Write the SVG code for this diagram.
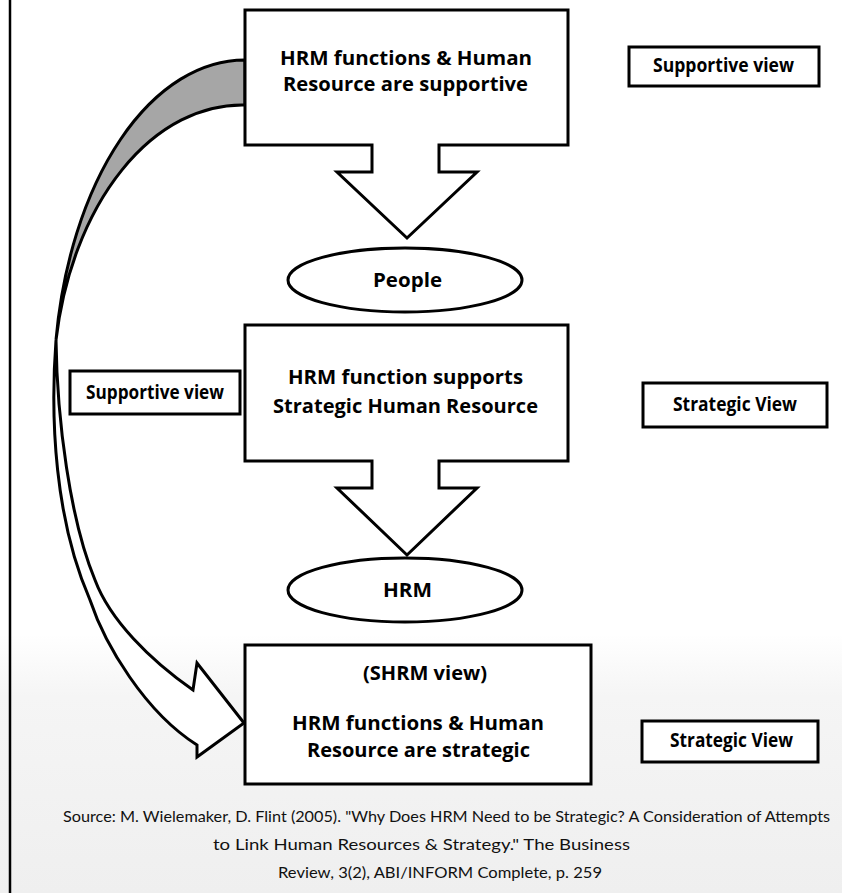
<svg xmlns="http://www.w3.org/2000/svg" width="842" height="893" viewBox="0 0 842 893">
<defs>
<linearGradient id="paper" x1="0" y1="0" x2="0" y2="1">
  <stop offset="0" stop-color="#ffffff"/>
  <stop offset="0.71" stop-color="#ffffff"/>
  <stop offset="0.78" stop-color="#f5f5f5"/>
  <stop offset="1" stop-color="#efefef"/>
</linearGradient>
</defs>
<style>
.shape{fill:#fff;stroke:#000;stroke-width:3;stroke-linejoin:miter}
.lbl{fill:#000;font-family:"Open Sans","DejaVu Sans",sans-serif;font-weight:bold;font-size:20px;text-anchor:middle}
.src{fill:#111;font-family:Lato,"Open Sans",sans-serif;font-size:16px}
.edge{stroke:#000;stroke-width:3;stroke-linejoin:miter}
</style>
<rect x="0" y="0" width="842" height="893" fill="url(#paper)"/>
<line x1="10" y1="0" x2="10" y2="893" stroke="#000" stroke-width="2.5"/>

<g id="connectors">
  <path class="edge" fill="#a6a6a6" d="M245,60 A191,330 0 0 0 56,340 A189,285 0 0 1 245,105 Z"/>
  <path class="edge" fill="#fff" d="M56,340 C50,420 55,520 90,600 C105,645 145,712 197,745 L197,757 L244,723 L197,663 L193,690 C150,660 110,620 95,580 C70,520 57,420 56,340 Z"/>
</g>

<g id="node-top">
  <path class="shape" d="M245,10 H568 V145 H439 V172 H477 L407,238 L337,172 H372 V145 H245 Z"/>
  <text class="lbl" x="406" y="65" textLength="252" lengthAdjust="spacingAndGlyphs">HRM functions &amp; Human</text>
  <text class="lbl" x="405.5" y="91" textLength="245" lengthAdjust="spacingAndGlyphs">Resource are supportive</text>
</g>

<g id="node-supportive-top">
  <rect class="shape" x="629" y="47" width="190" height="39"/>
  <text class="lbl" x="723.5" y="72" textLength="141" lengthAdjust="spacingAndGlyphs">Supportive view</text>
</g>

<g id="node-people">
  <ellipse class="shape" cx="405" cy="280" rx="117" ry="32"/>
  <text class="lbl" x="407.5" y="287" textLength="69" lengthAdjust="spacingAndGlyphs">People</text>
</g>

<g id="node-middle">
  <path class="shape" d="M245,325 H568 V461 H439 V488 H477 L407,555 L337,488 H372 V461 H245 Z"/>
  <text class="lbl" x="405.5" y="384" textLength="235" lengthAdjust="spacingAndGlyphs">HRM function supports</text>
  <text class="lbl" x="405.5" y="413" textLength="265" lengthAdjust="spacingAndGlyphs">Strategic Human Resource</text>
</g>

<g id="node-supportive-left">
  <rect class="shape" x="70" y="371" width="170" height="43"/>
  <text class="lbl" x="155" y="399" textLength="138" lengthAdjust="spacingAndGlyphs">Supportive view</text>
</g>

<g id="node-strategic-mid">
  <rect class="shape" x="643" y="383" width="184" height="44"/>
  <text class="lbl" x="735" y="411" textLength="124" lengthAdjust="spacingAndGlyphs">Strategic View</text>
</g>

<g id="node-hrm">
  <ellipse class="shape" cx="405" cy="590" rx="117" ry="32"/>
  <text class="lbl" x="407.5" y="597" textLength="49" lengthAdjust="spacingAndGlyphs">HRM</text>
</g>

<g id="node-bottom">
  <rect class="shape" x="245" y="645" width="346" height="139"/>
  <text class="lbl" x="425" y="680" textLength="124" lengthAdjust="spacingAndGlyphs">(SHRM view)</text>
  <text class="lbl" x="418" y="730" textLength="252" lengthAdjust="spacingAndGlyphs">HRM functions &amp; Human</text>
  <text class="lbl" x="418.5" y="757" textLength="223" lengthAdjust="spacingAndGlyphs">Resource are strategic</text>
</g>

<g id="node-strategic-bottom">
  <rect class="shape" x="642" y="721" width="176" height="41"/>
  <text class="lbl" x="731.5" y="747" textLength="123" lengthAdjust="spacingAndGlyphs">Strategic View</text>
</g>

<g id="source">
  <text class="src" x="63" y="822" textLength="767" lengthAdjust="spacingAndGlyphs">Source: M. Wielemaker, D. Flint (2005). "Why Does HRM Need to be Strategic? A Consideration of Attempts</text>
  <text class="src" x="213" y="850" textLength="417" lengthAdjust="spacingAndGlyphs">to Link Human Resources &amp; Strategy."  The Business</text>
  <text class="src" x="278" y="878" textLength="324" lengthAdjust="spacingAndGlyphs">Review, 3(2), ABI/INFORM Complete, p. 259</text>
</g>
</svg>
